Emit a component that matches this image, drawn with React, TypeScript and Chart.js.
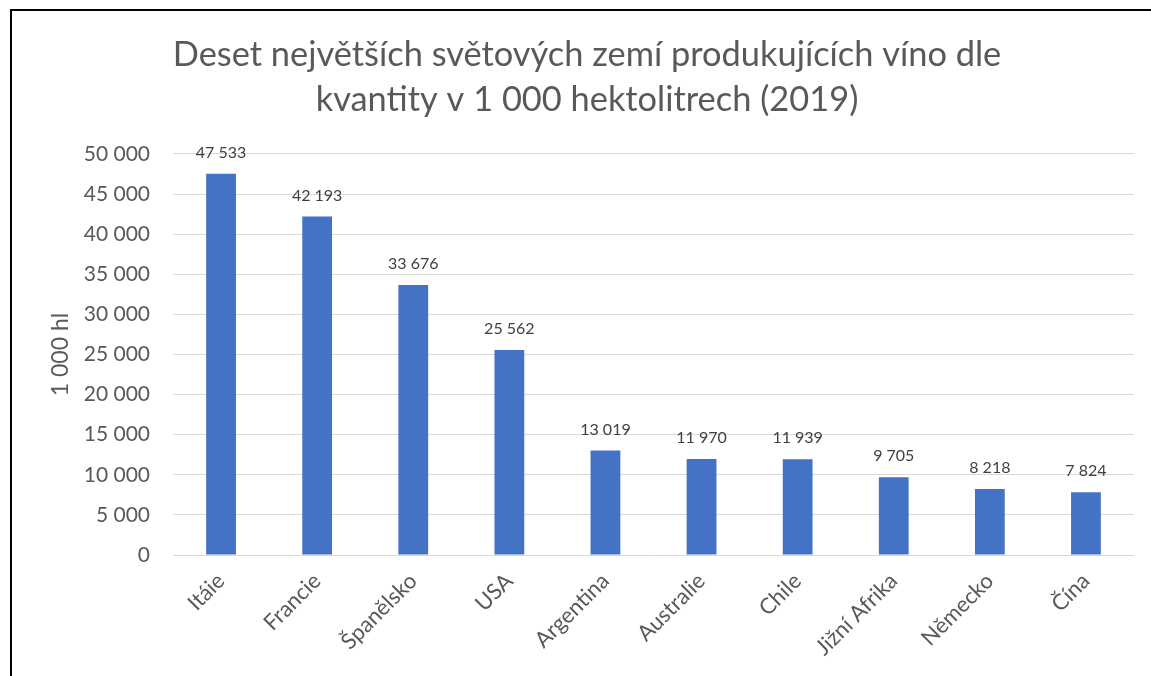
import React, { useEffect, useRef } from "react";
import { Chart, registerables } from "chart.js";

Chart.register(...registerables);

const titleLines = [
  "Deset největších světových zemí produkujících víno dle",
  "kvantity v 1 000 hektolitrech (2019)",
];
const categories = [
  "Itáie",
  "Francie",
  "Španělsko",
  "USA",
  "Argentina",
  "Australie",
  "Chile",
  "Jižní Afrika",
  "Německo",
  "Čína",
];
const values = [47533, 42193, 33676, 25562, 13019, 11970, 11939, 9705, 8218, 7824];
const yAxisTitle = "1 000 hl";
const yMin = 0;
const yMax = 50000;
const yStep = 5000;

const FONT = "Lato, 'Open Sans', sans-serif";

function fmt(v: number): string {
  return Math.round(v)
    .toString()
    .replace(/\B(?=(\d{3})+(?!\d))/g, " ");
}

const frameAndLabels = {
  id: "frameAndLabels",
  afterDatasetsDraw(chart: any) {
    const ctx = chart.ctx;
    const meta = chart.getDatasetMeta(0);
    ctx.save();
    ctx.font = `16px ${FONT}`;
    ctx.fillStyle = "#404040";
    ctx.textAlign = "center";
    ctx.textBaseline = "middle";
    meta.data.forEach((bar: any, i: number) => {
      ctx.fillText(fmt(values[i]), bar.x, bar.y - 21);
    });
    ctx.restore();
  },
  afterDraw(chart: any) {
    const ctx = chart.ctx;
    ctx.save();
    ctx.strokeStyle = "#000000";
    ctx.lineWidth = 2;
    ctx.strokeRect(11, 10, 1400, 900);
    ctx.restore();
  },
};

export default function App() {
  const ref = useRef<HTMLCanvasElement>(null);
  useEffect(() => {
    if (!ref.current) return;
    const chart = new Chart(ref.current, {
      type: "bar",
      data: {
        labels: categories,
        datasets: [
          {
            data: values,
            backgroundColor: "#4472C4",
            borderWidth: 0,
            categoryPercentage: 1,
            barPercentage: 0.31,
          },
        ],
      },
      options: {
        responsive: false,
        animation: false,
        devicePixelRatio: 1,
        layout: { padding: { left: 40, right: 17, top: 0, bottom: 0 } },
        plugins: {
          legend: { display: false },
          tooltip: { enabled: false },
          title: {
            display: true,
            text: titleLines,
            color: "#595959",
            font: { family: FONT, size: 34.4, weight: "normal", lineHeight: 1.308 },
            padding: { top: 32.5, bottom: 31.5 },
          },
        },
        scales: {
          x: {
            grid: { display: false },
            border: { display: false },
            ticks: {
              color: "#595959",
              font: { family: FONT, size: 22 },
              minRotation: 45,
              maxRotation: 45,
              autoSkip: false,
              padding: 5,
            },
            afterFit(scale: any) {
              scale.height = 121;
            },
          },
          y: {
            min: yMin,
            max: yMax,
            border: { display: false },
            grid: { color: "#d9d9d9", lineWidth: 1, drawTicks: false },
            ticks: {
              stepSize: yStep,
              color: "#595959",
              font: { family: FONT, size: 21 },
              padding: 23,
              callback: (v: any) => fmt(Number(v)),
            },
            title: {
              display: true,
              text: yAxisTitle,
              color: "#595959",
              font: { family: FONT, size: 23 },
              padding: { top: 7, bottom: 0 },
            },
            afterFit(scale: any) {
              scale.width = 133;
            },
          },
        },
      },
      plugins: [frameAndLabels],
    });
    return () => chart.destroy();
  }, []);
  return (
    <div style={{ position: "fixed", left: 0, top: 0, width: 1151, height: 676, background: "#fff" }}>
      <canvas ref={ref} width={1151} height={676} />
    </div>
  );
}
